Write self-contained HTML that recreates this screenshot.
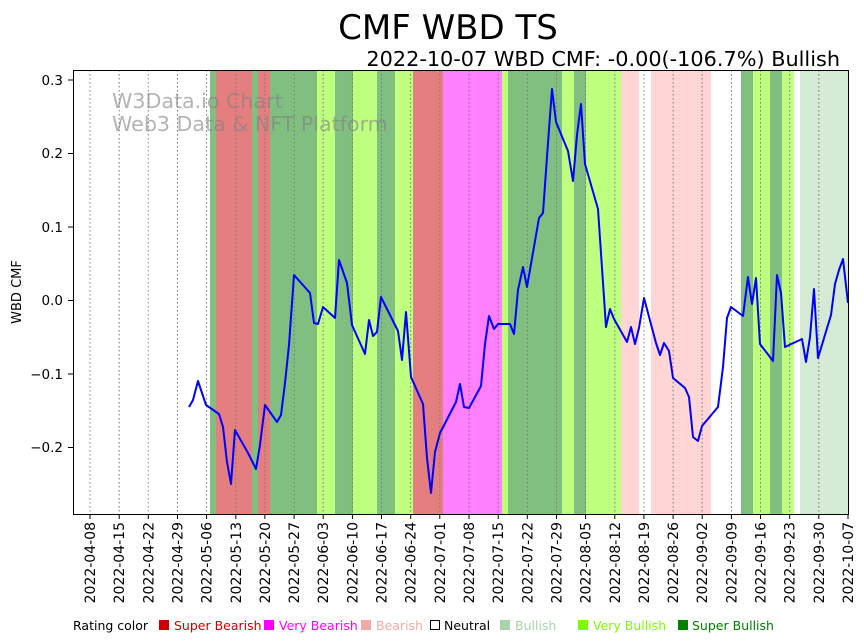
<!DOCTYPE html>
<html><head><meta charset="utf-8"><style>
html,body{margin:0;padding:0;background:#fff;}
svg{display:block;font-family:"DejaVu Sans","Liberation Sans",sans-serif;}
</style></head><body>
<svg width="864" height="641" viewBox="0 0 864 641" xmlns="http://www.w3.org/2000/svg">
<rect width="864" height="641" fill="#fff"/>
<text x="448" y="39" font-size="34" text-anchor="middle">CMF WBD TS</text>
<text x="840" y="66" font-size="20.8" text-anchor="end">2022-10-07 WBD CMF: -0.00(-106.7%) Bullish</text>
<g>
<rect x="210" y="70" width="6" height="444" fill="#80bf80"/>
<rect x="216" y="70" width="36" height="444" fill="#e57f7f"/>
<rect x="252" y="70" width="6" height="444" fill="#80bf80"/>
<rect x="258" y="70" width="12" height="444" fill="#e57f7f"/>
<rect x="270" y="70" width="47" height="444" fill="#80bf80"/>
<rect x="317" y="70" width="18" height="444" fill="#bfff80"/>
<rect x="335" y="70" width="18" height="444" fill="#80bf80"/>
<rect x="353" y="70" width="24" height="444" fill="#bfff80"/>
<rect x="377" y="70" width="18" height="444" fill="#80bf80"/>
<rect x="395" y="70" width="18" height="444" fill="#bfff80"/>
<rect x="413" y="70" width="30" height="444" fill="#e57f7f"/>
<rect x="443" y="70" width="59" height="444" fill="#ff80ff"/>
<rect x="502" y="70" width="6" height="444" fill="#bfff80"/>
<rect x="508" y="70" width="54" height="444" fill="#80bf80"/>
<rect x="562" y="70" width="12" height="444" fill="#bfff80"/>
<rect x="574" y="70" width="12" height="444" fill="#80bf80"/>
<rect x="586" y="70" width="35" height="444" fill="#bfff80"/>
<rect x="621" y="70" width="18" height="444" fill="#ffd5d5"/>
<rect x="651" y="70" width="60" height="444" fill="#ffd5d5"/>
<rect x="741" y="70" width="12" height="444" fill="#80bf80"/>
<rect x="753" y="70" width="17" height="444" fill="#bfff80"/>
<rect x="770" y="70" width="12" height="444" fill="#80bf80"/>
<rect x="782" y="70" width="12" height="444" fill="#bfff80"/>
<rect x="800" y="70" width="48" height="444" fill="#d5ead5"/>
</g>
<g stroke="#777" stroke-width="1" stroke-dasharray="1.5,2.5">
<line x1="90" y1="70" x2="90" y2="514"/><line x1="119.2" y1="70" x2="119.2" y2="514"/><line x1="148.3" y1="70" x2="148.3" y2="514"/><line x1="177.5" y1="70" x2="177.5" y2="514"/><line x1="206.6" y1="70" x2="206.6" y2="514"/><line x1="235.8" y1="70" x2="235.8" y2="514"/><line x1="264.9" y1="70" x2="264.9" y2="514"/><line x1="294.1" y1="70" x2="294.1" y2="514"/><line x1="323.2" y1="70" x2="323.2" y2="514"/><line x1="352.4" y1="70" x2="352.4" y2="514"/><line x1="381.5" y1="70" x2="381.5" y2="514"/><line x1="410.7" y1="70" x2="410.7" y2="514"/><line x1="439.8" y1="70" x2="439.8" y2="514"/><line x1="469" y1="70" x2="469" y2="514"/><line x1="498.2" y1="70" x2="498.2" y2="514"/><line x1="527.3" y1="70" x2="527.3" y2="514"/><line x1="556.5" y1="70" x2="556.5" y2="514"/><line x1="585.6" y1="70" x2="585.6" y2="514"/><line x1="614.8" y1="70" x2="614.8" y2="514"/><line x1="643.9" y1="70" x2="643.9" y2="514"/><line x1="673.1" y1="70" x2="673.1" y2="514"/><line x1="702.2" y1="70" x2="702.2" y2="514"/><line x1="731.4" y1="70" x2="731.4" y2="514"/><line x1="760.5" y1="70" x2="760.5" y2="514"/><line x1="789.7" y1="70" x2="789.7" y2="514"/><line x1="818.8" y1="70" x2="818.8" y2="514"/>
</g>
<text x="112" y="108" font-size="20.6" fill="#808080" fill-opacity="0.6">W3Data.io Chart</text>
<text x="112" y="131" font-size="20.6" fill="#808080" fill-opacity="0.6">Web3 Data &amp; NFT Platform</text>
<polyline fill="none" stroke="#0000ff" stroke-width="2" stroke-linejoin="round" points="189,407 193,400 198,381 206,405 219,414 223,427 227,462 231,484 235,430 248,453 256,469 260,445 265,405 277,422 281,415 285,383 289,345 294,275 310,293 314,323 318,324 323,307 335,318 339,260 347,283 352,325 365,354 369,320 373,336 377,332 381,297 398,331 402,360 406,312 411,377 423,404 427,458 431,493 435,452 440,433 456,402 460,384 464,407 469,408 481,386 485,344 489,316 494,329 498,324 510,324 514,334 518,290 523,267 527,287 539,218 543,213 548,143 552,89 556,122 568,151 573,181 577,135 581,104 585,164 598,209 606,327 610,309 614,319 627,342 631,327 635,344 639,328 644,298 656,343 660,355 664,343 669,351 673,378 685,388 689,397 693,437 698,441 702,426 718,407 723,367 727,318 731,307 743,316 748,277 752,304 756,278 760,344 773,361 777,275 781,293 785,347 802,339 806,362 810,337 814,289 818,358 831,315 835,284 839,270 843,259 848,303"/>
<rect x="73.5" y="70.5" width="775" height="444" fill="none" stroke="#000" stroke-width="1"/>
<g font-size="13.5" text-anchor="end">
<line x1="68" y1="80" x2="73" y2="80" stroke="#000"/><text x="63" y="85">0.3</text>
<line x1="68" y1="153.5" x2="73" y2="153.5" stroke="#000"/><text x="63" y="158">0.2</text>
<line x1="68" y1="227" x2="73" y2="227" stroke="#000"/><text x="63" y="232">0.1</text>
<line x1="68" y1="300.5" x2="73" y2="300.5" stroke="#000"/><text x="63" y="305">0.0</text>
<line x1="68" y1="374" x2="73" y2="374" stroke="#000"/><text x="63" y="379">−0.1</text>
<line x1="68" y1="447.5" x2="73" y2="447.5" stroke="#000"/><text x="63" y="452">−0.2</text>
</g>
<text transform="translate(21,292) rotate(-90)" font-size="13" text-anchor="middle">WBD CMF</text>
<g font-size="14" text-anchor="end">
<g transform="translate(95,522) rotate(-90)"><text>2022-04-08</text></g>
<g transform="translate(124.2,522) rotate(-90)"><text>2022-04-15</text></g>
<g transform="translate(153.3,522) rotate(-90)"><text>2022-04-22</text></g>
<g transform="translate(182.5,522) rotate(-90)"><text>2022-04-29</text></g>
<g transform="translate(211.6,522) rotate(-90)"><text>2022-05-06</text></g>
<g transform="translate(240.8,522) rotate(-90)"><text>2022-05-13</text></g>
<g transform="translate(269.9,522) rotate(-90)"><text>2022-05-20</text></g>
<g transform="translate(299.1,522) rotate(-90)"><text>2022-05-27</text></g>
<g transform="translate(328.2,522) rotate(-90)"><text>2022-06-03</text></g>
<g transform="translate(357.4,522) rotate(-90)"><text>2022-06-10</text></g>
<g transform="translate(386.5,522) rotate(-90)"><text>2022-06-17</text></g>
<g transform="translate(415.7,522) rotate(-90)"><text>2022-06-24</text></g>
<g transform="translate(444.8,522) rotate(-90)"><text>2022-07-01</text></g>
<g transform="translate(474,522) rotate(-90)"><text>2022-07-08</text></g>
<g transform="translate(503.2,522) rotate(-90)"><text>2022-07-15</text></g>
<g transform="translate(532.3,522) rotate(-90)"><text>2022-07-22</text></g>
<g transform="translate(561.5,522) rotate(-90)"><text>2022-07-29</text></g>
<g transform="translate(590.6,522) rotate(-90)"><text>2022-08-05</text></g>
<g transform="translate(619.8,522) rotate(-90)"><text>2022-08-12</text></g>
<g transform="translate(648.9,522) rotate(-90)"><text>2022-08-19</text></g>
<g transform="translate(678.1,522) rotate(-90)"><text>2022-08-26</text></g>
<g transform="translate(707.2,522) rotate(-90)"><text>2022-09-02</text></g>
<g transform="translate(736.4,522) rotate(-90)"><text>2022-09-09</text></g>
<g transform="translate(765.5,522) rotate(-90)"><text>2022-09-16</text></g>
<g transform="translate(794.7,522) rotate(-90)"><text>2022-09-23</text></g>
<g transform="translate(823.8,522) rotate(-90)"><text>2022-09-30</text></g>
<g transform="translate(853,522) rotate(-90)"><text>2022-10-07</text></g>
</g>
<g stroke="#000">
<line x1="90" y1="514" x2="90" y2="519"/><line x1="119.2" y1="514" x2="119.2" y2="519"/><line x1="148.3" y1="514" x2="148.3" y2="519"/><line x1="177.5" y1="514" x2="177.5" y2="519"/><line x1="206.6" y1="514" x2="206.6" y2="519"/><line x1="235.8" y1="514" x2="235.8" y2="519"/><line x1="264.9" y1="514" x2="264.9" y2="519"/><line x1="294.1" y1="514" x2="294.1" y2="519"/><line x1="323.2" y1="514" x2="323.2" y2="519"/><line x1="352.4" y1="514" x2="352.4" y2="519"/><line x1="381.5" y1="514" x2="381.5" y2="519"/><line x1="410.7" y1="514" x2="410.7" y2="519"/><line x1="439.8" y1="514" x2="439.8" y2="519"/><line x1="469" y1="514" x2="469" y2="519"/><line x1="498.2" y1="514" x2="498.2" y2="519"/><line x1="527.3" y1="514" x2="527.3" y2="519"/><line x1="556.5" y1="514" x2="556.5" y2="519"/><line x1="585.6" y1="514" x2="585.6" y2="519"/><line x1="614.8" y1="514" x2="614.8" y2="519"/><line x1="643.9" y1="514" x2="643.9" y2="519"/><line x1="673.1" y1="514" x2="673.1" y2="519"/><line x1="702.2" y1="514" x2="702.2" y2="519"/><line x1="731.4" y1="514" x2="731.4" y2="519"/><line x1="760.5" y1="514" x2="760.5" y2="519"/><line x1="789.7" y1="514" x2="789.7" y2="519"/><line x1="818.8" y1="514" x2="818.8" y2="519"/><line x1="848" y1="514" x2="848" y2="519"/>
</g>
<g font-size="12.5">
<text x="73" y="630">Rating color</text>
<rect x="159" y="620" width="10" height="10" fill="#cc0000"/><text x="174" y="630" fill="#cc0000">Super Bearish</text>
<rect x="264" y="620" width="10" height="10" fill="#ff00ff"/><text x="279" y="630" fill="#ff00ff">Very Bearish</text>
<rect x="361" y="620" width="10" height="10" fill="#f4a9a9"/><text x="376" y="630" fill="#f4a9a9">Bearish</text>
<rect x="430.5" y="620.5" width="9" height="9" fill="none" stroke="#000"/><text x="444" y="630">Neutral</text>
<rect x="500" y="620" width="10" height="10" fill="#a8d5a8"/><text x="515" y="630" fill="#a8d5a8">Bullish</text>
<rect x="578" y="620" width="10" height="10" fill="#7cfc00"/><text x="593" y="630" fill="#7cfc00">Very Bullish</text>
<rect x="678" y="620" width="10" height="10" fill="#008000"/><text x="692" y="630" fill="#008000">Super Bullish</text>
</g>
</svg>
</body></html>
